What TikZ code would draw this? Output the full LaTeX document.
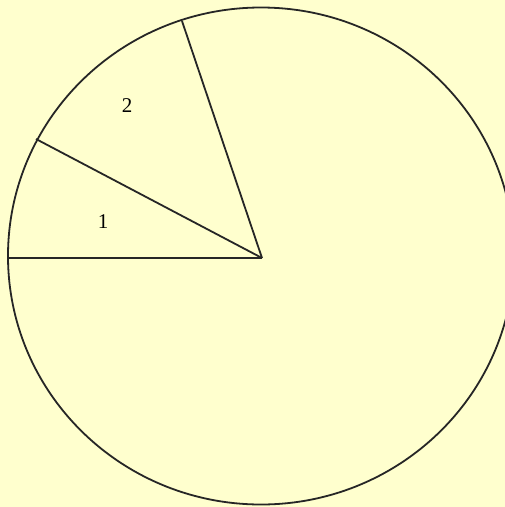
\documentclass[tikz,border=0pt]{standalone}
\usepackage{fontspec}
\setmainfont{Liberation Serif}
\begin{document}
\begin{tikzpicture}[x=1pt,y=-1pt,
  edge/.style={draw=black!85, line width=1.8pt},
  lbl/.style={font=\fontsize{21}{23}\selectfont, inner sep=0pt}]
\fill[fill={rgb,255:red,255;green,255;blue,206}] (0,0) rectangle (505,507);
\useasboundingbox (0,0) rectangle (505,507);
\draw[edge] (261,256) ellipse [x radius=253, y radius=248.5];
\coordinate (c) at (262,258);
\coordinate (a) at (8,258);
\coordinate (b) at (36,139);
\coordinate (d) at (182,21);
\draw[edge] (c) -- (a);
\draw[edge] (c) -- (b);
\draw[edge] (c) -- (d);
\node[lbl] (one) at (103,222) {1};
\node[lbl] (two) at (127,106) {2};
\end{tikzpicture}
\end{document}
